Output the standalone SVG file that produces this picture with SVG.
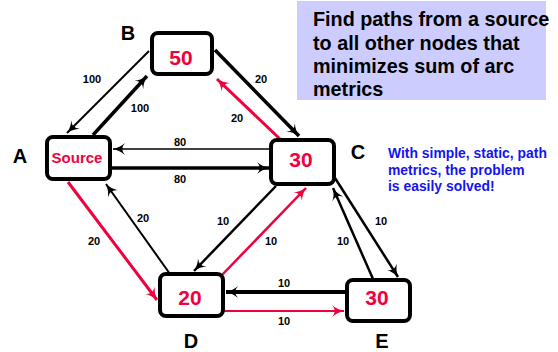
<svg xmlns="http://www.w3.org/2000/svg" width="558" height="352" viewBox="0 0 558 352">
<defs>
<style>
.node rect{fill:#fff;stroke:#000;stroke-width:4}
.val{font-family:"Liberation Sans",Arial,sans-serif;font-weight:bold;fill:#f0003c;text-anchor:middle}
.lbl{font-family:"Liberation Sans",Arial,sans-serif;font-weight:bold;font-size:20px;fill:#000;text-anchor:middle}
.el{font-family:"Liberation Sans",Arial,sans-serif;font-weight:bold;font-size:11px;fill:#000;text-anchor:middle}
.k{stroke:#000;fill:none}
.r{stroke:#f0003c;fill:none}
.info{font-family:"Liberation Sans",Arial,sans-serif;font-weight:bold;font-size:19.8px;fill:#000}
.note{font-family:"Liberation Sans",Arial,sans-serif;font-weight:bold;font-size:13.9px;fill:#1414f0}
</style>
<marker id="ak" markerUnits="userSpaceOnUse" markerWidth="14" markerHeight="14" refX="13" refY="6" orient="auto" viewBox="0 0 14 12">
<path d="M13,6 Q6,4.5 1,0 Q6.5,6 1,12 Q6,7.5 13,6 z" fill="#000"/>
</marker>
<marker id="ar" markerUnits="userSpaceOnUse" markerWidth="14" markerHeight="14" refX="13" refY="6" orient="auto" viewBox="0 0 14 12">
<path d="M13,6 Q6,4.5 1,0 Q6.5,6 1,12 Q6,7.5 13,6 z" fill="#f0003c"/>
</marker>
</defs>
<rect width="558" height="352" fill="#fff"/>

<g id="connectors">
<line class="k" x1="149" y1="51" x2="67" y2="133" stroke-width="2" marker-end="url(#ak)"/>
<line class="k" x1="93" y1="135" x2="147" y2="76" stroke-width="3.5" marker-end="url(#ak)"/>
<line class="k" x1="215" y1="50" x2="299" y2="136" stroke-width="3.5" marker-end="url(#ak)"/>
<line class="r" x1="280" y1="139" x2="217" y2="79" stroke-width="3" marker-end="url(#ar)"/>
<line class="k" x1="270" y1="149" x2="113" y2="149" stroke-width="1.5" marker-end="url(#ak)"/>
<line class="k" x1="112" y1="168" x2="269" y2="168" stroke-width="3.5" marker-end="url(#ak)"/>
<line class="r" x1="68" y1="182" x2="157" y2="300" stroke-width="3" marker-end="url(#ar)"/>
<line class="k" x1="170" y1="274" x2="106" y2="184" stroke-width="2" marker-end="url(#ak)"/>
<line class="k" x1="276" y1="186" x2="194" y2="271" stroke-width="2.5" marker-end="url(#ak)"/>
<line class="r" x1="222" y1="275" x2="306" y2="188" stroke-width="2.5" marker-end="url(#ar)"/>
<line class="k" x1="335" y1="178" x2="398" y2="277" stroke-width="2.5" marker-end="url(#ak)"/>
<line class="k" x1="373" y1="279" x2="333" y2="188" stroke-width="2.5" marker-end="url(#ak)"/>
<line class="k" x1="346" y1="292" x2="226" y2="292" stroke-width="4" marker-end="url(#ak)"/>
<line class="r" x1="224" y1="311" x2="344" y2="311" stroke-width="2" marker-end="url(#ar)"/>
<text class="el" x="92" y="83">100</text>
<text class="el" x="140" y="112">100</text>
<text class="el" x="261" y="83">20</text>
<text class="el" x="237" y="122">20</text>
<text class="el" x="180" y="146">80</text>
<text class="el" x="180" y="183">80</text>
<text class="el" x="94" y="245">20</text>
<text class="el" x="143" y="222">20</text>
<text class="el" x="223" y="225">10</text>
<text class="el" x="271" y="245">10</text>
<text class="el" x="381" y="225">10</text>
<text class="el" x="343" y="245">10</text>
<text class="el" x="284" y="287">10</text>
<text class="el" x="284" y="325">10</text>
</g>

<g id="node-A" class="node">
<rect x="47" y="137" width="63" height="42" rx="6"/>
<text class="val" x="77" y="163" font-size="15">Source</text>
<text class="lbl" x="20" y="163">A</text>
</g>
<g id="node-B" class="node">
<rect x="152" y="33" width="60" height="41" rx="6"/>
<text class="val" x="181" y="65" font-size="21">50</text>
<text class="lbl" x="128" y="40">B</text>
</g>
<g id="node-C" class="node">
<rect x="271" y="140" width="63" height="44" rx="6"/>
<text class="val" x="301" y="167" font-size="21">30</text>
<text class="lbl" x="358" y="159">C</text>
</g>
<g id="node-D" class="node">
<rect x="160" y="274" width="63" height="42" rx="6"/>
<text class="val" x="190" y="305" font-size="21">20</text>
<text class="lbl" x="191" y="348">D</text>
</g>
<g id="node-E" class="node">
<rect x="347" y="280" width="63" height="41" rx="6"/>
<text class="val" x="377" y="305" font-size="21">30</text>
<text class="lbl" x="382" y="348">E</text>
</g>

<g id="info">
<rect x="297" y="1" width="249" height="99" fill="#ccccff"/>
<text class="info" x="313" y="26">Find paths from a source</text>
<text class="info" x="313" y="50">to all other nodes that</text>
<text class="info" x="313" y="73">minimizes sum of arc</text>
<text class="info" x="313" y="96">metrics</text>
</g>
<g id="note">
<text class="note" x="388" y="158">With simple, static, path</text>
<text class="note" x="388" y="175">metrics, the problem</text>
<text class="note" x="388" y="191">is easily solved!</text>
</g>
</svg>
